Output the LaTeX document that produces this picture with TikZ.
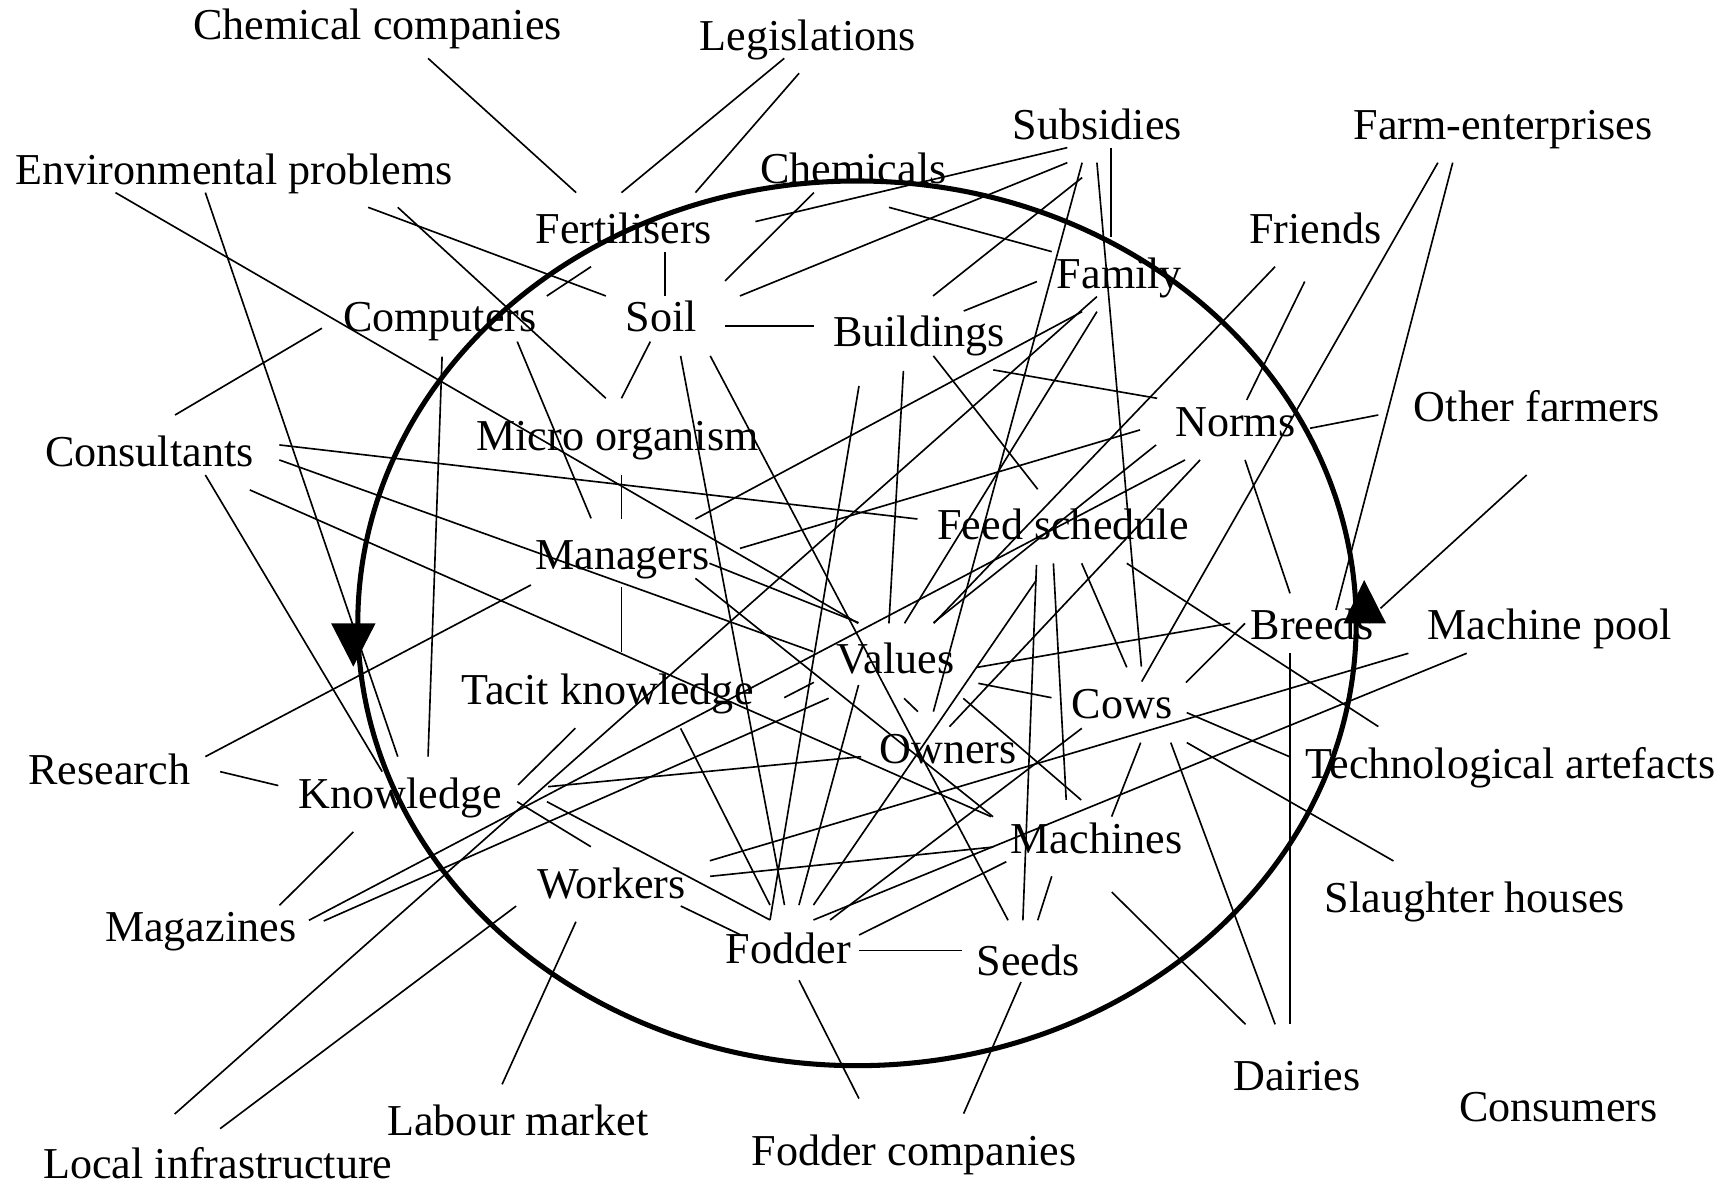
\documentclass[tikz,border=0pt]{standalone}
\usepackage{fontspec}
\setmainfont{Liberation Serif}
\begin{document}
\begin{tikzpicture}[x=0.01cm,y=-0.01cm,
  lbl/.style={anchor=base west,inner sep=0pt,font=\fontsize{11.35}{13}\selectfont},
  link/.style={line width=0.42pt},
  loopline/.style={line width=1.3pt},
  head/.style={fill=black}]
\useasboundingbox (0,0) rectangle (1568,1074);

% the surrounding cycle with its two direction marks
\draw[loopline] (775.4,564) ellipse [x radius=4.514cm, y radius=4cm];
\fill[head] (299.6,564) -- (339.8,564) -- (319.7,603.2) -- cycle;
\fill[head] (1215.6,564) -- (1254.1,564) -- (1234.3,524.8) -- cycle;

% labels
\node[lbl] (chemco)   at (174,35.6)     {Chemical companies};
\node[lbl] (legis)    at (632.6,45.8)   {Legislations};
\node[lbl] (subs)     at (915.5,126)    {Subsidies};
\node[lbl] (farment)  at (1224,126)     {Farm-enterprises};
\node[lbl] (env)      at (13.4,167.4)   {Environmental problems};
\node[lbl] (chem)     at (687.1,165.9)  {Chemicals};
\node[lbl] (fert)     at (483.8,220)    {Fertilisers};
\node[lbl] (friends)  at (1129.6,220)   {Friends};
\node[lbl] (family)   at (955.6,260.9)  {Family};
\node[lbl] (comp)     at (309.7,300)    {Computers};
\node[lbl] (soil)     at (565.6,300)    {Soil};
\node[lbl] (build)    at (753.1,313.6)  {Buildings};
\node[lbl] (norms)    at (1062.6,395.1) {Norms};
\node[lbl] (otherf)   at (1278.6,381.5) {Other farmers};
\node[lbl] (consult)  at (40.2,422)     {Consultants};
\node[lbl] (micro)    at (430.2,408)    {Micro organism};
\node[lbl] (feed)     at (847.5,488.6)  {Feed schedule};
\node[lbl] (managers) at (483.8,515.7)  {Managers};
\node[lbl] (breeds)   at (1130.9,579)   {Breeds};
\node[lbl] (machpool) at (1291,579)     {Machine pool};
\node[lbl] (values)   at (756.4,609.2)  {Values};
\node[lbl] (tacit)    at (416.8,637)    {Tacit knowledge};
\node[lbl] (cows)     at (969,649.9)    {Cows};
\node[lbl] (owners)   at (795,690.6)    {Owners};
\node[lbl] (tech)     at (1180.5,704.2) {Technological artefacts};
\node[lbl] (research) at (25.1,710.2)   {Research};
\node[lbl] (knowl)    at (269.5,731.7)  {Knowledge};
\node[lbl] (machines) at (913.8,772.4)  {Machines};
\node[lbl] (workers)  at (485.4,813.1)  {Workers};
\node[lbl] (slaught)  at (1197.9,825.2) {Slaughter houses};
\node[lbl] (mags)     at (94.4,852.3)   {Magazines};
\node[lbl] (fodder)   at (656,871.9)    {Fodder};
\node[lbl] (seeds)    at (883,882.5)    {Seeds};
\node[lbl] (dairies)  at (1115.2,987.1) {Dairies};
\node[lbl] (consum)   at (1319.4,1014.3){Consumers};
\node[lbl] (labour)   at (349.8,1027.2) {Labour market};
\node[lbl] (fodcomp)  at (679.4,1054.4) {Fodder companies};
\node[lbl] (locinf)   at (38.5,1066.4)  {Local infrastructure};

% relations
\begin{scope}[link]
% fertilisers and its suppliers
\draw (387.3,52.8) -- (521.3,174.3);
\draw (709.6,52.8) -- (562.3,174.3);
\draw (723,66.3) -- (629.2,174.3);
\draw (494.8,267.8) -- (534.8,241.3);
\draw (601.8,228.3) -- (601.8,267.8);
% environmental problems
\draw (104.5,174.3) -- (776.5,564);
\draw (185.8,174.3) -- (359.9,684.6);
\draw (333.1,187.6) -- (548.2,267.8);
\draw (359.9,187.6) -- (548.2,360.4);
% computers
\draw (291.3,297) -- (158.4,375.5);
\draw (400,322.7) -- (387.3,684.6);
\draw (468,309.1) -- (534.8,469);
% chemicals
\draw (736.4,174.3) -- (656,254.2);
\draw (804.3,187.6) -- (951.6,227.7);
% subsidies
\draw (683.5,200.5) -- (965.7,133.6);
\draw (669.4,267.8) -- (965.7,147.2);
\draw (844.2,267.8) -- (979.1,160.7);
\draw (1005.2,133.6) -- (1005.2,214.1);
\draw (992.5,147.2) -- (1032.7,603.1);
\draw (979.1,147.2) -- (844.5,643.9);
% soil, buildings, family
\draw (656,294.9) -- (736.4,294.9);
\draw (872,281.4) -- (938.2,254.8);
\draw (979.1,282) -- (629.2,469.6);
\draw (992.5,268.4) -- (158,1008);
\draw (992.5,282) -- (818.4,564);
\draw (898.7,334.7) -- (1047,360.4);
\draw (844.5,322) -- (938.9,442.7);
\draw (817.4,335.6) -- (804.3,564);
\draw (777.2,349.2) -- (696.7,832.4);
\draw (588.4,309.1) -- (562.3,360.4);
\draw (615.8,322) -- (709.8,818.9);
\draw (642.6,322) -- (912.1,832.7);
% micro organism, managers, tacit knowledge
\draw (562.3,429.8) -- (562.3,469.6);
\draw (562.3,530.8) -- (562.3,589.6);
% norms and friends
\draw (1031.5,389) -- (669.5,496.2);
\draw (1046,402.6) -- (844.7,563.4);
\draw (279.5,832.7) -- (1072.2,416.2);
\draw (1085.8,416.2) -- (859.1,657.5);
\draw (1126.5,416.2) -- (1167.2,536.8);
\draw (1185.3,387.5) -- (1247.1,375.5);
\draw (1180.5,254.8) -- (1128,361.9);
\draw (1153.7,241.3) -- (844.8,564);
% farm-enterprises, other farmers
\draw (1301,147.2) -- (1033,616.7);
\draw (1314.4,147.2) -- (1208.8,551.9);
\draw (1381.3,429.8) -- (1249.1,550.4);
% breeds
\draw (1113,564) -- (884.2,603.8);
\draw (1126.5,564) -- (1073.1,617.6);
\draw (1167.2,591.1) -- (1167.2,926.8);
% feed schedule
\draw (1019.5,509.7) -- (1247.1,657.4);
\draw (978.7,509.7) -- (1019.5,603.8);
\draw (953.1,509.7) -- (964.7,723.8);
\draw (937.8,511.2) -- (925.5,832.7);
\draw (937.8,524.8) -- (736,818.9);
% machine pool
\draw (1274.3,591.1) -- (642.3,778.8);
\draw (1327.1,591.1) -- (736,832.4);
% cows
\draw (1073.8,644.8) -- (1166.6,684.6);
\draw (1073.8,671.9) -- (1260.8,779);
\draw (1059.3,671.9) -- (1153.7,926.8);
\draw (1032.1,671.9) -- (1005.8,738.9);
\draw (978.8,659) -- (751.1,832.4);
% research and consultants
\draw (199.2,698.2) -- (251.8,710.8);
\draw (185.8,684.6) -- (480.4,529.3);
\draw (185.8,429.8) -- (345.8,698.2);
\draw (252.8,402.6) -- (830.1,469.6);
\draw (252.8,416.2) -- (735.7,589.6);
\draw (226,443.3) -- (896.7,738.9);
% managers
\draw (641.9,509.7) -- (776.8,563.4);
\draw (629.2,523.3) -- (898.5,739);
% tacit knowledge and knowledge
\draw (709.6,631.2) -- (736.4,617.4);
\draw (468.7,710.2) -- (520.6,658.9);
\draw (615.8,659) -- (696.7,818.9);
\draw (319.7,752.8) -- (252.8,819.2);
\draw (496,711.8) -- (779.2,684.7);
\draw (467.9,725.4) -- (534.6,766.1);
\draw (494.9,725.4) -- (696.7,832.4);
\draw (292.9,833.3) -- (749.8,631.8);
% workers
\draw (199.2,1021.2) -- (467,819.8);
\draw (521.1,834) -- (454.3,981.1);
\draw (616,819.8) -- (670.4,846);
% machines, fodder, seeds
\draw (642.6,792.9) -- (898.7,766.4);
\draw (777.3,846) -- (910.5,779.7);
\draw (777.2,859.9) -- (870.3,859.9);
\draw (723,887) -- (777.2,994);
\draw (923.8,888.5) -- (871.9,1007.6);
\draw (1005.9,807.1) -- (1126.9,926.8);
\draw (951.6,792.9) -- (938.9,832.7);
% values
\draw (818,631.9) -- (830.5,643.9);
\draw (885.2,618.3) -- (951.4,631.3);
\draw (871.6,631.9) -- (978.2,723.8);
\draw (776.8,619.8) -- (722.9,818.9);
\end{scope}
\end{tikzpicture}
\end{document}
